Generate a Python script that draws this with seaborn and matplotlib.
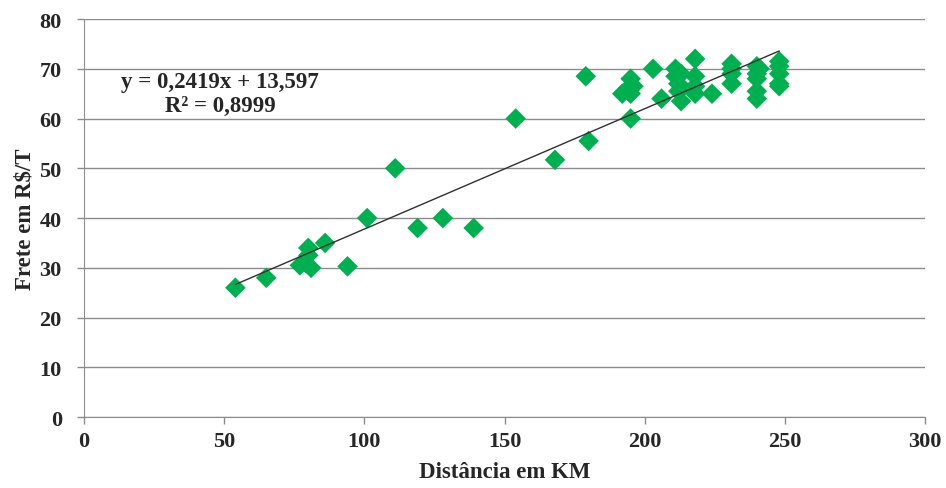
import numpy as np
import pandas as pd
import seaborn as sns
import matplotlib
matplotlib.use("Agg")
import matplotlib.pyplot as plt

# distancia (km) e frete (R$/T)
distancia = [54, 65, 77, 79, 80, 80, 81, 86, 94, 101, 111, 119, 128, 139, 154, 168,
             179, 180, 192, 194, 195, 195, 195, 196, 203, 206,
             211, 211, 212, 212, 213, 213, 213, 218, 218, 218, 218, 224,
             231, 231, 231, 231, 240, 240, 240, 240, 240, 241,
             248, 248, 248, 248, 248]
frete = [26, 28, 30.5, 31, 34, 32.5, 30, 35, 30.3, 40, 50, 38, 40, 38, 60, 51.7,
         68.5, 55.5, 65, 66, 68, 65, 60, 66.5, 70, 64,
         70, 68.5, 67, 65.5, 63.5, 69, 66, 72, 68.5, 66.5, 65, 65,
         71, 70, 69, 67, 70.5, 69, 68, 65.5, 64, 70,
         71.5, 70.5, 69, 67, 66.5]

# linha de tendencia (do rotulo do grafico)
slope = 0.2419
intercept = 13.597
r2_txt = "0,8999"

df = pd.DataFrame({"dist": distancia, "frete": frete})

sns.set_style("white")
plt.rcParams['font.family'] = ['Liberation Serif', 'DejaVu Serif']
plt.rcParams['font.weight'] = 'bold'

fig = plt.figure(figsize=(9.46, 4.89), dpi=100)
ax = fig.add_axes([0.0888, 0.145, 0.889, 0.814])

sns.scatterplot(data=df, x="dist", y="frete", marker="D", s=110, color="#00B050",
                edgecolor="none", ax=ax, zorder=3)

xl = np.array([min(distancia), max(distancia)])
ax.plot(xl, slope * xl + intercept, color="#303030", lw=1, zorder=4)

ax.set_xlim(0, 300)
ax.set_ylim(0, 80)
ax.set_xticks(range(0, 301, 50))
ax.set_yticks(range(0, 81, 10))
ax.yaxis.grid(True, color="#8c8c8c", lw=1)
ax.set_axisbelow(True)
for s in ["top", "right"]:
    ax.spines[s].set_visible(False)
ax.spines["left"].set_color("#8c8c8c")
ax.spines["bottom"].set_color("#8c8c8c")
ax.tick_params(axis="x", direction="out", length=5, width=1, color="#8c8c8c",
               bottom=True, labelsize=16, pad=5)
ax.tick_params(axis="y", direction="out", length=5, width=1, color="#8c8c8c",
               left=True, labelsize=16, pad=11)
for lab in ax.get_xticklabels() + ax.get_yticklabels():
    lab.set_fontweight("bold")

ax.set_xlabel("Distância em KM", fontsize=16.5, fontweight="bold", labelpad=7)
ax.set_ylabel("Frete em R$/T", fontsize=16.5, fontweight="bold", labelpad=3)

eq = "y = " + f"{slope:.4f}".replace(".", ",") + "x + " + f"{intercept:.3f}".replace(".", ",")
ax.text(48.5, 65.0, eq + "\nR² = " + r2_txt, ha="center", va="center",
        fontsize=16.5, fontweight="bold", linespacing=1.2)

fig.savefig("out.png", dpi=100)
